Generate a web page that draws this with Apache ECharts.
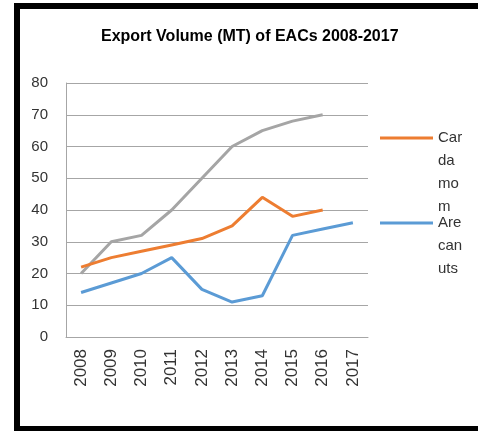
<!DOCTYPE html>
<html>
<head>
<meta charset="utf-8">
<script src="https://cdn.jsdelivr.net/npm/echarts@6/dist/echarts.min.js"></script>
<style>
html,body{margin:0;padding:0;background:#fff;}
#chart{position:absolute;left:0;top:0;width:478px;height:431px;}
#frame{position:absolute;left:14px;top:3px;width:464px;height:428px;box-sizing:border-box;border-left:6px solid #000;border-top:6px solid #000;border-bottom:5px solid #000;pointer-events:none;}
</style>
</head>
<body>
<div id="chart"></div>
<div id="frame"></div>
<script>
var years = ['2008','2009','2010','2011','2012','2013','2014','2015','2016','2017'];
var cardamom = [22, 25, 27, 29, 31, 35, 44, 38, 40, null];
var arecanuts = [14, 17, 20, 25, 15, 11, 13, 32, 34, 36];
var series3 = [20, 30, 32, 40, 50, 60, 65, 68, 70, null];
var yTicks = [0, 10, 20, 30, 40, 50, 60, 70, 80];

var chart = echarts.init(document.getElementById('chart'));
var fontFam = 'Liberation Sans, Arial, sans-serif';
var lh = 23;
chart.setOption({
  animation: false,
  title: {
    text: 'Export Volume (MT) of EACs 2008-2017',
    left: 101, top: 29, padding: 0,
    textStyle: {fontFamily: fontFam, fontSize: 16, fontWeight: 'bold', color: '#000'}
  },
  legend: [{
    data: ['Cardamom'], orient: 'vertical', left: 380, top: 138 - 3.5 * lh, padding: 0,
    icon: 'rect', itemWidth: 53, itemHeight: 3,
    formatter: function () { return '\n\n\nCar\nda\nmo\nm'; },
    textStyle: {fontFamily: fontFam, fontSize: 15, color: '#333', lineHeight: lh}
  }, {
    data: ['Arecanuts'], orient: 'vertical', left: 380, top: 223 - 2.5 * lh, padding: 0,
    icon: 'rect', itemWidth: 53, itemHeight: 3,
    formatter: function () { return '\n\nAre\ncan\nuts'; },
    textStyle: {fontFamily: fontFam, fontSize: 15, color: '#333', lineHeight: lh}
  }],
  grid: {left: 66, right: 110, top: 83, bottom: 94, containLabel: false},
  xAxis: {
    type: 'category', data: years, boundaryGap: true,
    axisLine: {show: true, lineStyle: {color: '#a6a6a6', width: 1}},
    axisTick: {show: false},
    axisLabel: {rotate: 90, margin: 12, interval: 0, fontFamily: fontFam, fontSize: 17, color: '#333'}
  },
  yAxis: {
    type: 'value', min: yTicks[0], max: yTicks[yTicks.length - 1], interval: 10,
    axisLine: {show: true, lineStyle: {color: '#a6a6a6', width: 1}},
    axisTick: {show: false},
    splitLine: {show: true, lineStyle: {color: '#a6a6a6', width: 1}},
    axisLabel: {margin: 18, fontFamily: fontFam, fontSize: 15, color: '#333'}
  },
  series: [
    {name: 'Series3', type: 'line', data: series3, showSymbol: false, symbol: 'none',
     lineStyle: {color: '#A5A5A5', width: 3}, itemStyle: {color: '#A5A5A5'}},
    {name: 'Cardamom', type: 'line', data: cardamom, showSymbol: false, symbol: 'none',
     lineStyle: {color: '#ED7D31', width: 3}, itemStyle: {color: '#ED7D31'}},
    {name: 'Arecanuts', type: 'line', data: arecanuts, showSymbol: false, symbol: 'none',
     lineStyle: {color: '#5B9BD5', width: 3}, itemStyle: {color: '#5B9BD5'}}
  ]
});
</script>
</body>
</html>
